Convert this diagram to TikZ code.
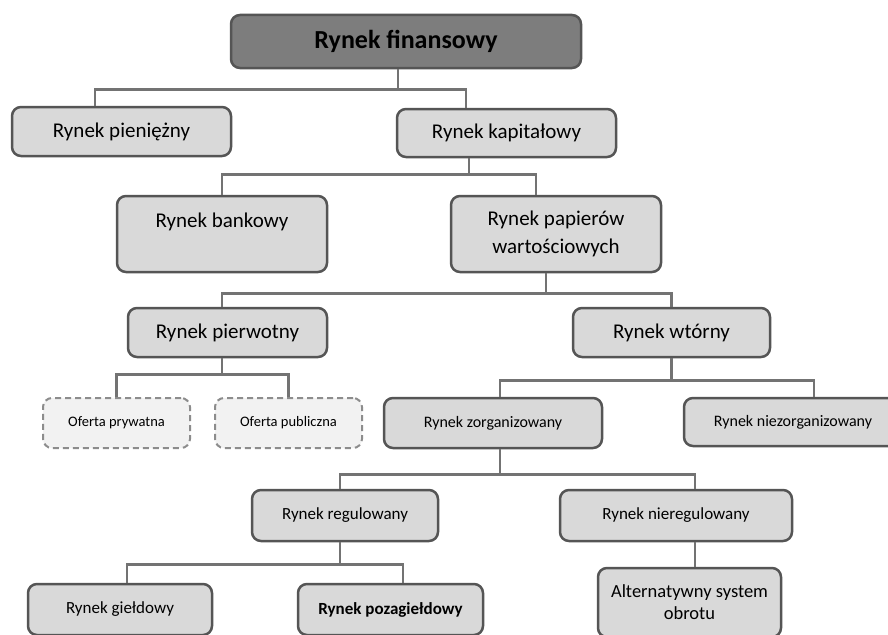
\documentclass[tikz,border=0pt]{standalone}
\usepackage{fontspec}
\setmainfont{Carlito}
\definecolor{rootfill}{RGB}{125,125,125}
\definecolor{boxfill}{RGB}{217,217,217}
\definecolor{offerfill}{RGB}{242,242,242}
\definecolor{edgegray}{RGB}{85,85,85}
\definecolor{linegray}{RGB}{115,115,115}
\definecolor{dashgray}{RGB}{140,140,140}

\begin{document}
\begin{tikzpicture}[x=1pt,y=-1pt,
  market/.style={draw=edgegray,line width=2.5pt,rounded corners=9pt,fill=boxfill,align=center,inner sep=2pt},
  rootbox/.style={market,fill=rootfill,font=\bfseries\fontsize{26}{31}\selectfont},
  big/.style={market,font=\fontsize{21}{28}\selectfont},
  small/.style={market,font=\fontsize{16}{20}\selectfont},
  mid/.style={market,font=\fontsize{17}{21}\selectfont},
  offer/.style={market,draw=dashgray,line width=2pt,dash pattern=on 6pt off 4pt,fill=offerfill,font=\fontsize{14.5}{18}\selectfont},
  link/.style={draw=linegray,line width=2.5pt}]

 \clip (0,0) rectangle (888,634);
 \fill[white] (0,0) rectangle (888,634);

 \node[rootbox,minimum width=350pt,minimum height=53pt] (fin) at (406,41.5) {Rynek finansowy};
 \node[big,minimum width=219pt,minimum height=49pt] (pien) at (121.5,131.5) {Rynek pieniężny};
 \node[big,minimum width=219pt,minimum height=48pt] (kap) at (506.5,133) {Rynek kapitałowy};
 \node[big,minimum width=210pt,minimum height=76pt] (bank) at (222,234) {Rynek bankowy\\\mbox{}};
 \node[big,minimum width=210pt,minimum height=76pt] (pap) at (556,234) {Rynek papierów\\wartościowych};
 \node[big,minimum width=199pt,minimum height=49pt] (pierw) at (227.5,332.5) {Rynek pierwotny};
 \node[big,minimum width=197pt,minimum height=49pt] (wtor) at (671.5,332.5) {Rynek wtórny};
 \node[offer,minimum width=147pt,minimum height=50pt] (ofp) at (116.5,423) {Oferta prywatna};
 \node[offer,minimum width=147pt,minimum height=50pt] (ofpub) at (288.5,423) {Oferta publiczna};
 \node[small,minimum width=218pt,minimum height=50pt] (zorg) at (493,423) {Rynek zorganizowany};
 \node[small,minimum width=218pt,minimum height=48pt] (niezorg) at (793,422) {Rynek niezorganizowany};
 \node[mid,minimum width=186pt,minimum height=51pt] (regul) at (345,515.5) {Rynek regulowany};
 \node[mid,minimum width=232pt,minimum height=51pt] (nieregul) at (676,515.5) {Rynek nieregulowany};
 \node[mid,minimum width=184pt,minimum height=51pt] (gield) at (120,609.5) {Rynek giełdowy};
 \node[mid,minimum width=185pt,minimum height=51pt,font=\bfseries\fontsize{17}{21}\selectfont] (pozag) at (390.5,609.5) {Rynek pozagiełdowy};
 \node[mid,minimum width=183pt,minimum height=69pt,font=\fontsize{18.5}{22}\selectfont] (alt) at (689.5,602.5) {Alternatywny system\\obrotu};

 \draw[link] ([xshift=-8pt]fin.south) -- ++(0,20) -| ([xshift=-26.5pt]pien.north)
             ([xshift=-8pt]fin.south) ++(0,20) -| ([xshift=-40.5pt]kap.north);
 \draw[link] ([xshift=-37.5pt]kap.south) -- ++(0,16) -| (bank.north)
             ([xshift=-37.5pt]kap.south) ++(0,16) -| ([xshift=-20pt]pap.north);
 \draw[link] ([xshift=-10pt]pap.south) -- ++(0,20) -| ([xshift=-5.5pt]pierw.north)
             ([xshift=-10pt]pap.south) ++(0,20) -| (wtor.north);
 \draw[link] ([xshift=-5.5pt]pierw.south) -- ++(0,16) -| (ofp.north)
             ([xshift=-5.5pt]pierw.south) ++(0,16) -| (ofpub.north);
 \draw[link] (wtor.south) -- ++(0,22) -| ([xshift=7pt]zorg.north)
             (wtor.south) ++(0,22) -| ([xshift=21pt]niezorg.north);
 \draw[link] ([xshift=7pt]zorg.south) -- ++(0,25) -| ([xshift=-5pt]regul.north)
             ([xshift=7pt]zorg.south) ++(0,25) -| ([xshift=19pt]nieregul.north);
 \draw[link] ([xshift=-5pt]regul.south) -- ++(0,22) -| ([xshift=7pt]gield.north)
             ([xshift=-5pt]regul.south) ++(0,22) -| ([xshift=12.5pt]pozag.north);
 \path ([xshift=19pt]nieregul.south) coordinate (nr);
 \draw[link] (nr) -- (nr |- alt.north);

\end{tikzpicture}
\end{document}
